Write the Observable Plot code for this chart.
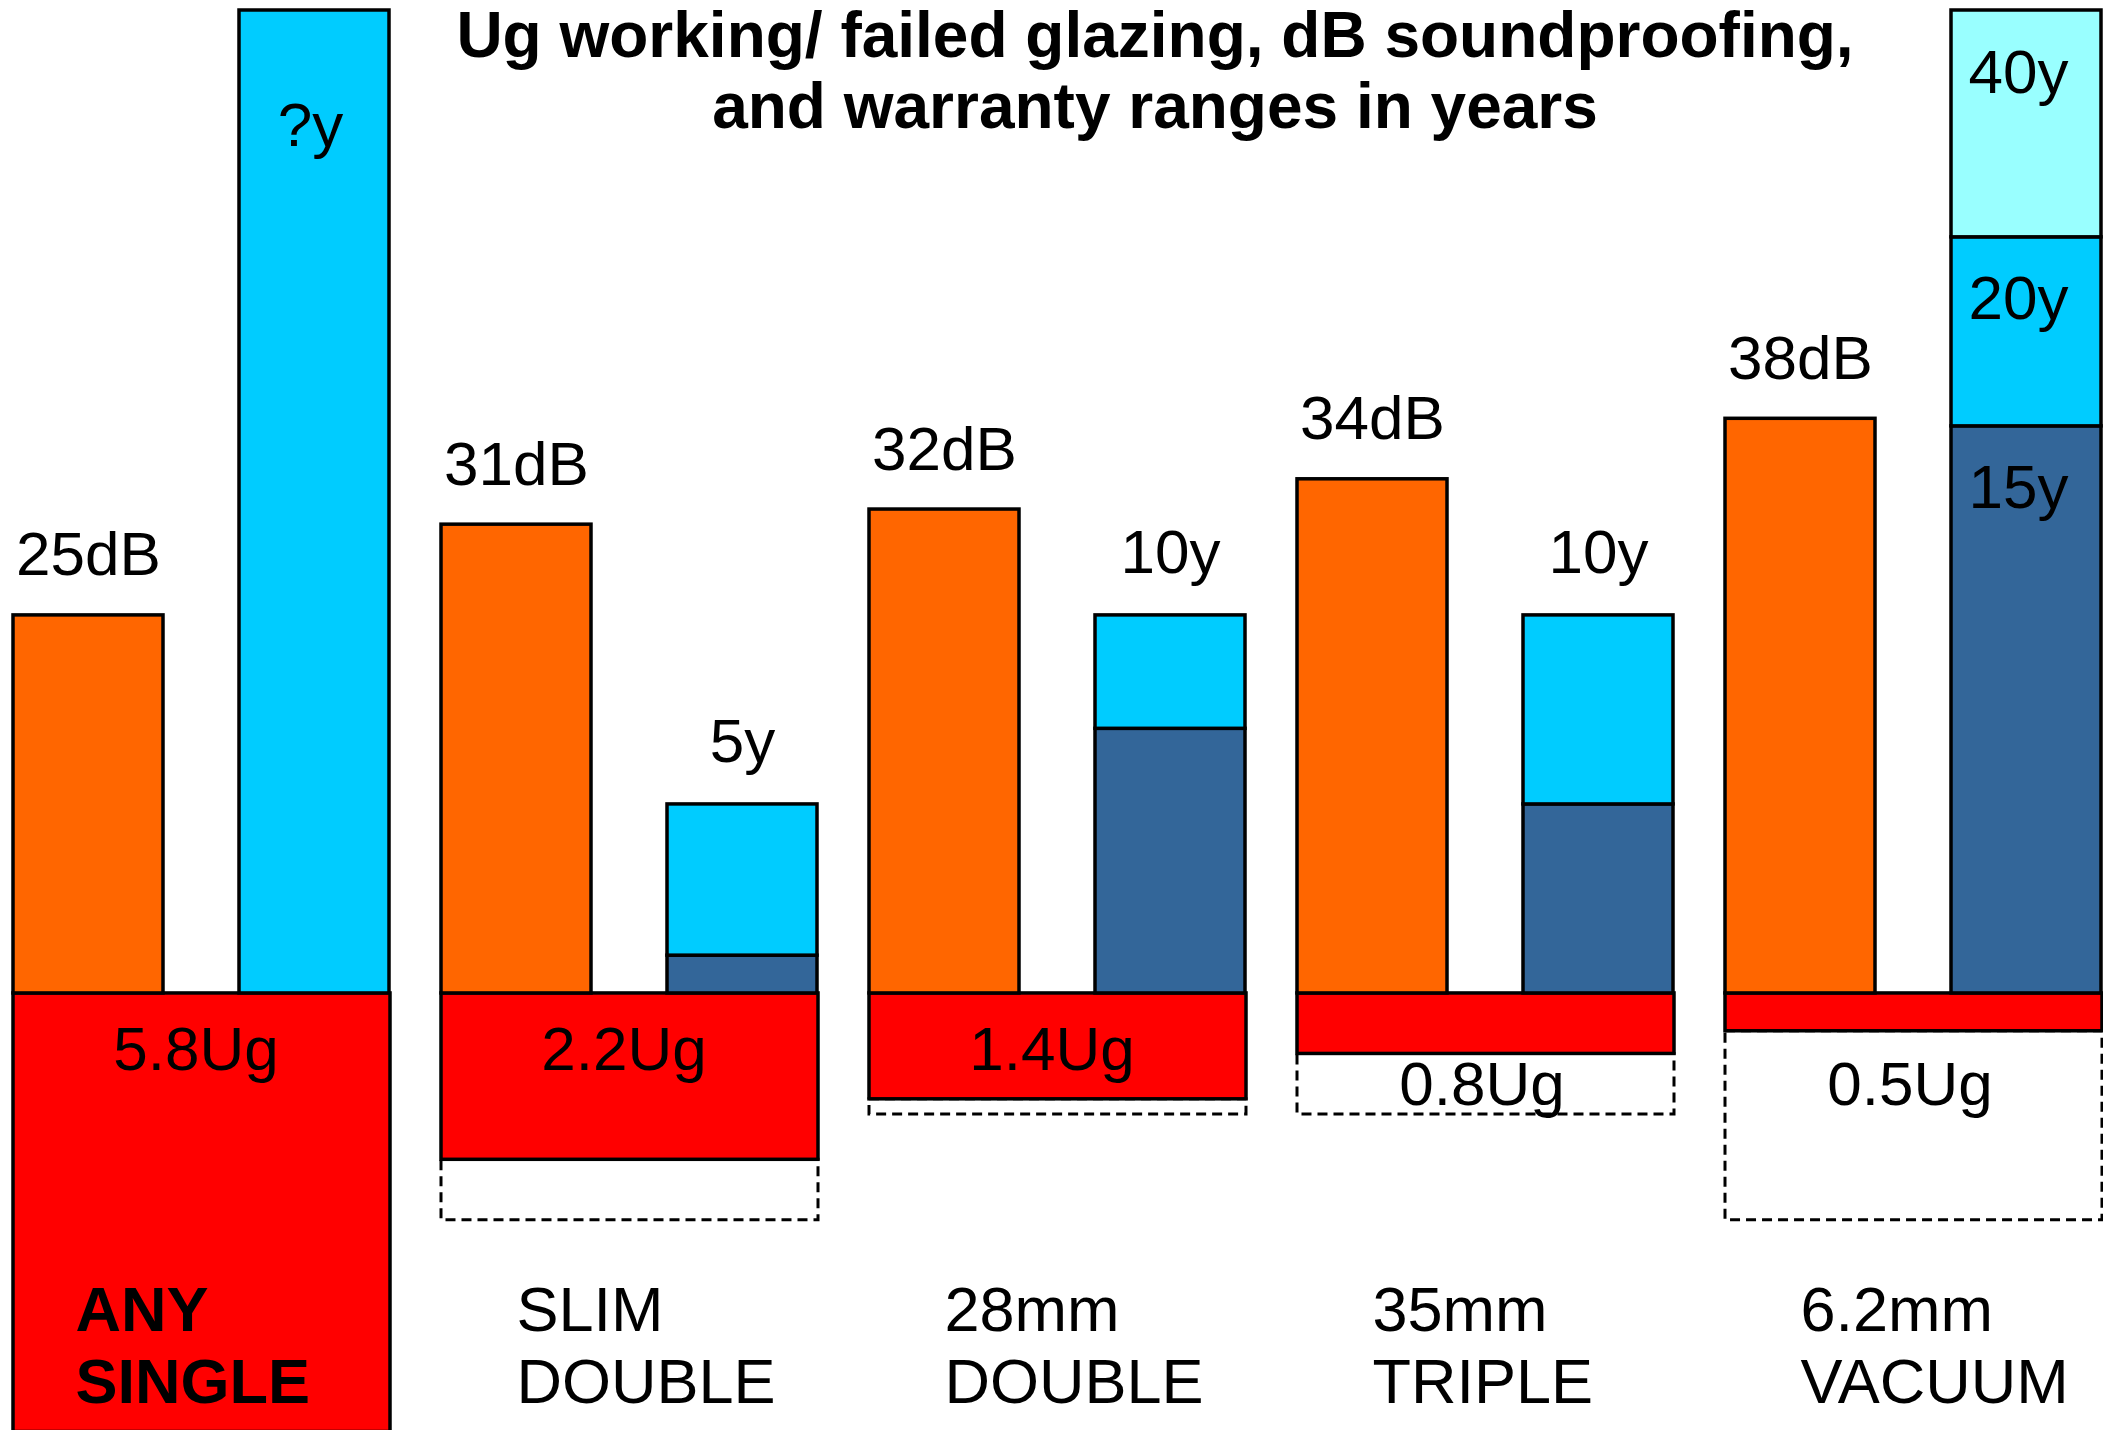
<!DOCTYPE html>
<html>
<head>
<meta charset="utf-8">
<script src="https://cdn.jsdelivr.net/npm/d3@7"></script>
<script src="https://cdn.jsdelivr.net/npm/@observablehq/plot@0.6"></script>
<style>
  body { margin: 0; background: #fff; }
  #wrap { position: relative; width: 2103px; height: 1430px; overflow: hidden; }
  #title {
    position: absolute; top: 0; left: 1155px; transform: translateX(-50%);
    white-space: nowrap; text-align: center; color: #000;
    font-family: "Liberation Sans", Arial, sans-serif; font-weight: bold;
    font-size: 64px; line-height: 71px;
  }
</style>
</head>
<body>
<div id="wrap">
  <div id="chart"></div>
  <div id="title">Ug working/ failed glazing, dB soundproofing,<br>and warranty ranges in years</div>
</div>
<script>
// ---- data ----
const glazing = ["ANY\nSINGLE", "SLIM\nDOUBLE", "28mm\nDOUBLE", "35mm\nTRIPLE", "6.2mm\nVACUUM"];
const soundDb = [25, 31, 32, 34, 38];                 // orange bars (dB)
const ugWorking = [5.8, 2.2, 1.4, 0.8, 0.5];          // red boxes (Ug, working)
const ugFailed = [5.8, 3.0, 1.6, 1.6, 3.0];           // dashed boxes (Ug, failed)
const warrantyMin = [null, 1, 7, 5, 15];              // dark blue (years)
const warrantyMax = [null, 5, 10, 10, 20];            // light blue top (years)
const warrantyExt = [null, null, null, null, 40];     // pale cyan top (years)

// drawing ratios of the shared vertical axis (in dB units)
const DB_PER_YEAR = 2.5;
const DB_PER_UG = 5;
const Y_TOP = 65, Y_BOTTOM = -28.9;

const groups = glazing.map((g, i) => ({
  g, db: soundDb[i], ug: ugWorking[i], fail: ugFailed[i]
}));

const segments = [];
const aboveLabels = [];
const insideLabels = [];
const unknownLabels = [];
glazing.forEach((g, i) => {
  if (warrantyMax[i] == null) {
    segments.push({g, from: 0, to: Y_TOP, tier: "unknown"});
    unknownLabels.push({g, y: Y_TOP, text: "?y"});
    return;
  }
  const lo = warrantyMin[i] * DB_PER_YEAR;
  const hi = warrantyMax[i] * DB_PER_YEAR;
  segments.push({g, from: 0, to: lo, tier: "guaranteed"});
  segments.push({g, from: lo, to: hi, tier: "range"});
  if (warrantyExt[i] != null) {
    const ext = Math.min(warrantyExt[i] * DB_PER_YEAR, Y_TOP);
    segments.push({g, from: hi, to: ext, tier: "extended"});
    insideLabels.push({g, y: lo, text: warrantyMin[i] + "y"});
    insideLabels.push({g, y: hi, text: warrantyMax[i] + "y"});
    insideLabels.push({g, y: ext, text: warrantyExt[i] + "y"});
  } else {
    aboveLabels.push({g, y: hi, text: warrantyMax[i] + "y"});
  }
});

const FONT = 62;
const SW = 3.5;
const chart = Plot.plot({
  width: 2103,
  height: 1430,
  marginTop: 10,
  marginBottom: 0,
  marginLeft: 12,
  marginRight: 0,
  style: {fontFamily: "'Liberation Sans', Arial, sans-serif", background: "white", color: "black"},
  fx: {domain: glazing, paddingInner: 0.118, paddingOuter: 0, axis: null, label: null},
  x: {domain: ["dB", "warranty"], paddingInner: 0.335, paddingOuter: 0, axis: null, label: null},
  y: {domain: [Y_BOTTOM, Y_TOP], axis: null, label: null},
  color: {domain: ["guaranteed", "range", "extended", "unknown"],
          range: ["#336699", "#00CCFF", "#99FFFF", "#00CCFF"]},
  marks: [
    // failed-glazing Ug (dashed)
    Plot.rect(groups.filter(d => d.fail > d.ug), {
      fx: "g", y1: d => -d.ug * DB_PER_UG, y2: d => -d.fail * DB_PER_UG,
      fill: "white", stroke: "black", strokeWidth: 3, strokeDasharray: "10,6"
    }),
    // working Ug (red)
    Plot.rect(groups, {
      fx: "g", y1: 0, y2: d => -d.ug * DB_PER_UG,
      fill: "#FF0000", stroke: "black", strokeWidth: SW
    }),
    // soundproofing (orange)
    Plot.barY(groups, {
      fx: "g", x: () => "dB", y1: 0, y2: "db",
      fill: "#FF6600", stroke: "black", strokeWidth: SW
    }),
    // warranty stacks
    Plot.barY(segments, {
      fx: "g", x: () => "warranty", y1: "from", y2: "to",
      fill: "tier", stroke: "black", strokeWidth: SW
    }),
    // dB labels
    Plot.text(groups, {
      fx: "g", x: () => "dB", y: "db", text: d => d.db + "dB",
      lineAnchor: "bottom", dy: -40, fontSize: FONT, fill: "black"
    }),
    // warranty labels above bars
    Plot.text(aboveLabels, {
      fx: "g", x: () => "warranty", y: "y", text: "text",
      lineAnchor: "bottom", dy: -42, fontSize: FONT, fill: "black"
    }),
    // warranty labels inside segments
    Plot.text(insideLabels, {
      fx: "g", x: () => "warranty", y: "y", text: "text",
      lineAnchor: "bottom", dy: 82, dx: -8, fontSize: FONT, fill: "black"
    }),
    Plot.text(unknownLabels, {
      fx: "g", x: () => "warranty", y: "y", text: "text",
      lineAnchor: "bottom", dy: 135, dx: -4, fontSize: FONT, fill: "black"
    }),
    // Ug labels
    Plot.text(groups.filter(d => d.ug >= 1), {
      fx: "g", y: () => 0, text: d => d.ug + "Ug",
      lineAnchor: "bottom", dy: 77, dx: -6, fontSize: FONT, fill: "black"
    }),
    Plot.text(groups.filter(d => d.ug < 1), {
      fx: "g", y: () => 0, text: d => d.ug + "Ug",
      lineAnchor: "bottom", dy: 112, dx: -4, fontSize: FONT, fill: "black"
    }),
    // category labels
    Plot.text(groups, {
      filter: (d, i) => i === 0,
      fx: "g", x: () => "dB", frameAnchor: "bottom", text: "g",
      textAnchor: "start", lineAnchor: "bottom", dy: -28, dx: -13, lineHeight: 1.14,
      fontSize: 63, fontWeight: "bold", fill: "black"
    }),
    Plot.text(groups, {
      filter: (d, i) => i > 0,
      fx: "g", x: () => "dB", frameAnchor: "bottom", text: "g",
      textAnchor: "start", lineAnchor: "bottom", dy: -28, lineHeight: 1.14,
      fontSize: 63, fill: "black"
    })
  ]
});
document.getElementById("chart").appendChild(chart);
</script>
</body>
</html>
